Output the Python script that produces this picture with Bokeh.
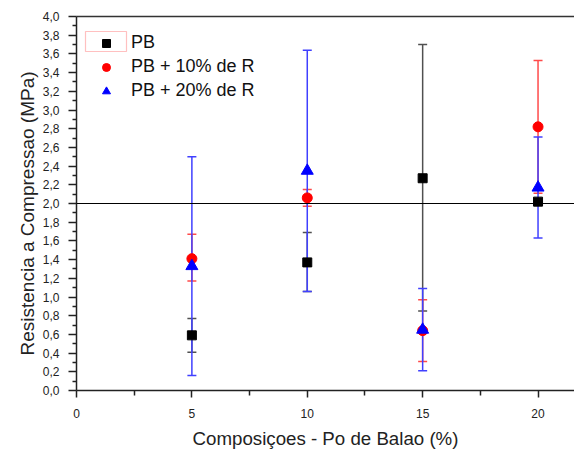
from bokeh.plotting import figure
from bokeh.models import (ColumnDataSource, Whisker, TeeHead, Span, Legend, LegendItem,
                          FixedTicker, LinearAxis, BoxAnnotation, Range1d, Title)
from bokeh.embed import file_html
from bokeh.resources import INLINE

# ---------------- data ----------------
composicoes = [5, 10, 15, 20]

pb_mean = [0.59, 1.37, 2.27, 2.02]
pb_low = [0.41, 1.06, 0.85, 1.99]
pb_high = [0.77, 1.69, 3.70, 2.05]

r10_mean = [1.41, 2.06, 0.64, 2.82]
r10_low = [1.17, 1.97, 0.31, 2.11]
r10_high = [1.67, 2.15, 0.97, 3.53]

r20_mean = [1.33, 2.35, 0.65, 2.17]
r20_low = [0.16, 1.06, 0.21, 1.63]
r20_high = [2.50, 3.64, 1.09, 2.71]

reference_line = 2.0

x_ticks = [0, 5, 10, 15, 20]
x_minor = [2.5, 7.5, 12.5, 17.5]
y_ticks = [0.0, 0.2, 0.4, 0.6, 0.8, 1.0, 1.2, 1.4, 1.6, 1.8, 2.0,
           2.2, 2.4, 2.6, 2.8, 3.0, 3.2, 3.4, 3.6, 3.8, 4.0]
y_tick_labels = ["0,0", "0,2", "0,4", "0,6", "0,8", "1,0", "1,2", "1,4", "1,6", "1,8", "2,0",
                 "2,2", "2,4", "2,6", "2,8", "3,0", "3,2", "3,4", "3,6", "3,8", "4,0"]
y_minor = [0.1, 0.3, 0.5, 0.7, 0.9, 1.1, 1.3, 1.5, 1.7, 1.9,
           2.1, 2.3, 2.5, 2.7, 2.9, 3.1, 3.3, 3.5, 3.7, 3.9]

series_names = ["PB", "PB + 10% de R", "PB + 20% de R"]
x_title = "Composiçoes - Po de Balao (%)"
y_title = "Resistencia a Compressao (MPa)"

FONT = "Liberation Sans"
AX = "#222222"

p = figure(width=574, height=451, output_backend="svg", toolbar_location=None,
           x_range=Range1d(0, 21.58), y_range=Range1d(0, 4.0),
           min_border_left=76, min_border_right=0, min_border_top=16, min_border_bottom=59)
p.grid.visible = False
p.outline_line_color = None
p.background_fill_color = "white"
p.border_fill_color = "white"

# axes
p.xaxis.ticker = FixedTicker(ticks=x_ticks, minor_ticks=x_minor)
p.yaxis.ticker = FixedTicker(ticks=y_ticks, minor_ticks=y_minor)
p.yaxis.major_label_overrides = dict(zip(y_ticks, y_tick_labels))
for ax in (p.xaxis[0], p.yaxis[0]):
    ax.axis_line_color = AX
    ax.axis_line_width = 1.5
    ax.major_tick_line_color = AX
    ax.minor_tick_line_color = AX
    ax.major_tick_line_width = 1.5
    ax.minor_tick_line_width = 1.5
    ax.major_tick_in = 0
    ax.minor_tick_in = 0
    ax.major_label_text_font = FONT
    ax.major_label_text_font_size = "12px"
    ax.major_label_text_color = "#222222"
    ax.axis_label_text_font = FONT
    ax.axis_label_text_font_style = "normal"
    ax.axis_label_text_color = "#222222"
p.yaxis.major_tick_out = 8
p.yaxis.minor_tick_out = 4
p.xaxis.major_tick_out = 7
p.xaxis.minor_tick_out = 5
p.yaxis.major_label_standoff = 9
p.xaxis.major_label_standoff = 11
p.xaxis.axis_label_standoff = 7
p.xaxis.axis_label_text_font_size = "18.7px"
p.xaxis.axis_label = x_title

# y title as a left-side title so it can be placed like the original
p.add_layout(Title(text=y_title, align="left", offset=35, standoff=3,
                   text_font=FONT, text_font_size="19px", text_font_style="normal",
                   text_color="#222222"), "left")

top = LinearAxis(ticker=FixedTicker(ticks=[]), axis_line_color="#333333", axis_line_width=1.5,
                 major_tick_line_color=None, minor_tick_line_color=None)
p.add_layout(top, "above")

p.add_layout(Span(location=reference_line, dimension="width", line_color="black", line_width=1))

# error bars
def add_err(low, high, color):
    src = ColumnDataSource(dict(x=composicoes, lower=low, upper=high))
    w = Whisker(base="x", lower="lower", upper="upper", source=src,
                line_color=color, line_width=1.5,
                upper_head=TeeHead(size=9, line_color=color, line_width=1.5),
                lower_head=TeeHead(size=9, line_color=color, line_width=1.5))
    p.add_layout(w)

add_err(pb_low, pb_high, "#505050")
add_err(r10_low, r10_high, "#ff4a4a")
add_err(r20_low, r20_high, "#4040ff")

r_pb = p.scatter(composicoes, pb_mean, marker="square", size=9, color="black")
r_10 = p.scatter(composicoes, r10_mean, marker="circle", size=10, color="red")
r_20 = p.scatter(composicoes, r20_mean, marker="triangle", size=12, color="blue")

legend = Legend(items=[LegendItem(label=series_names[0], renderers=[r_pb]),
                       LegendItem(label=series_names[1], renderers=[r_10]),
                       LegendItem(label=series_names[2], renderers=[r_20])],
                location=(20, 289), glyph_width=20, glyph_height=20, spacing=3,
                label_standoff=15, padding=0, margin=0, border_line_color=None,
                background_fill_alpha=0, label_text_font=FONT, label_text_font_size="18px",
                label_text_color="#111111", label_height=20)
p.add_layout(legend)

# highlight box around the first legend symbol (screen px, measured from frame bottom-left)
p.add_layout(BoxAnnotation(left=9, right=50, top=359, bottom=339,
                           left_units="screen", right_units="screen",
                           top_units="screen", bottom_units="screen",
                           fill_color=None, fill_alpha=0, line_color="#ff3030", line_width=1.2))

open("out.html", "w").write(file_html(p, INLINE))
